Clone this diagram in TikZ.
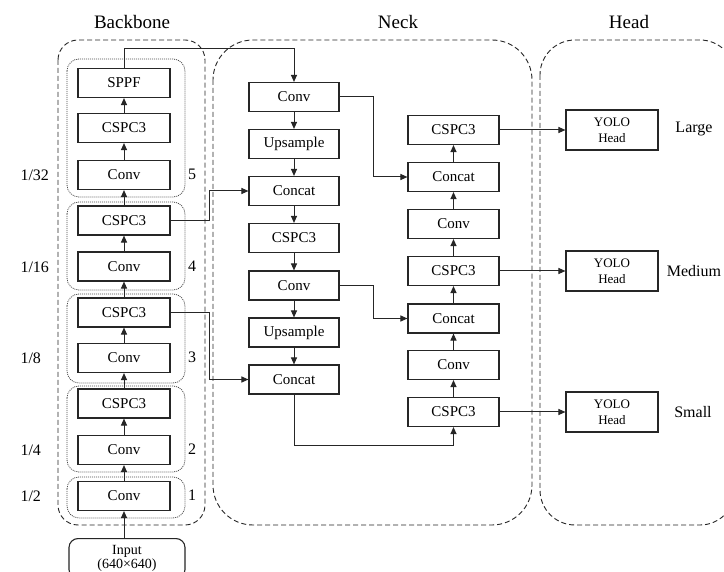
\documentclass[tikz,border=0pt]{standalone}
\usepackage{fontspec}
\setmainfont{Liberation Serif}
\usetikzlibrary{arrows.meta}
\begin{document}
\begin{tikzpicture}[x=1pt,y=-1pt,
  blk/.style={draw=black!85, line width=1.1pt, minimum height=29pt, inner sep=0pt, font=\fontsize{15}{17}\selectfont},
  bbox/.style={blk, minimum width=92pt},
  lbox/.style={blk, minimum width=90pt},
  rbox/.style={blk, minimum width=91pt},
  hbox/.style={blk, minimum width=92pt, minimum height=40pt, align=center, font=\fontsize{13}{16}\selectfont},
  grp/.style={draw=black!85, line width=0.9pt, dash pattern=on 5pt off 3pt},
  stg/.style={draw=black!70, line width=0.8pt, dash pattern=on 1pt off 1pt, rounded corners=12pt},
  arr/.style={draw=black!85, line width=1pt, -{Triangle[length=7pt,width=6pt]}},
  ttl/.style={font=\fontsize{19}{21}\selectfont},
  lab/.style={font=\fontsize{16}{18}\selectfont}
]
\path[use as bounding box, clip] (0,0) rectangle (724,572);
\fill[white] (0,0) rectangle (724,572);

% titles
\node[ttl] (tb) at (132,22) {Backbone};
\node[ttl] (tn) at (398,22) {Neck};
\node[ttl] (th) at (629,22) {Head};

% group boxes
\draw[grp, rounded corners=20pt] (58,40) rectangle (205,525);
\draw[grp, rounded corners=40pt] (213,40) rectangle (532,525);
\draw[grp, rounded corners=35pt] (540,40) rectangle (735,525);

% stage boxes
\draw[stg] (67,59) rectangle (185,197);
\draw[stg] (67,202) rectangle (185,290);
\draw[stg] (67,294) rectangle (185,383);
\draw[stg] (67,386) rectangle (185,472);
\draw[stg] (67,477) rectangle (185,518);

% backbone nodes
\node[bbox] (sppf) at (124,83) {SPPF};
\node[bbox] (b5c) at (124,128) {CSPC3};
\node[bbox] (b5v) at (124,175) {Conv};
\node[bbox] (b4c) at (124,220.5) {CSPC3};
\node[bbox] (b4v) at (124,266.5) {Conv};
\node[bbox] (b3c) at (124,312.5) {CSPC3};
\node[bbox] (b3v) at (124,358) {Conv};
\node[bbox] (b2c) at (124,403.5) {CSPC3};
\node[bbox] (b2v) at (124,450) {Conv};
\node[bbox] (b1v) at (124,496) {Conv};
\node[draw=black!85, line width=1.1pt, rounded corners=9pt, minimum width=116pt, minimum height=40pt, anchor=north, align=center, font=\fontsize{14}{14.5}\selectfont] (inp) at (127,538) {Input\\(640×640)};

% scale labels
\node[lab, anchor=west] (s32) at (17,175) {1/32};
\node[lab, anchor=west] (s16) at (17,267) {1/16};
\node[lab, anchor=west] (s8) at (17,358) {1/8};
\node[lab, anchor=west] (s4) at (17,450) {1/4};
\node[lab, anchor=west] (s2) at (17,496) {1/2};
% stage numbers
\node[lab] (n5) at (192,174) {5};
\node[lab] (n4) at (192,266) {4};
\node[lab] (n3) at (192,357) {3};
\node[lab] (n2) at (192,449) {2};
\node[lab] (n1) at (192,495) {1};

% backbone arrows
\draw[arr] (inp.north -| b1v) -- (b1v.south);
\draw[arr] (b1v) -- (b2v.south);
\draw[arr] (b2v) -- (b2c.south);
\draw[arr] (b2c) -- (b3v.south);
\draw[arr] (b3v) -- (b3c.south);
\draw[arr] (b3c) -- (b4v.south);
\draw[arr] (b4v) -- (b4c.south);
\draw[arr] (b4c) -- (b5v.south);
\draw[arr] (b5v) -- (b5c.south);
\draw[arr] (b5c) -- (sppf.south);

% neck left column
\node[lbox] (nc1) at (294,97) {Conv};
\node[lbox] (nu1) at (294,144) {Upsample};
\node[lbox] (ncat1) at (294,191) {Concat};
\node[lbox] (ncs) at (294,238) {CSPC3};
\node[lbox] (nc2) at (294,285.5) {Conv};
\node[lbox] (nu2) at (294,332.5) {Upsample};
\node[lbox] (ncat2) at (294,379.5) {Concat};

% neck right column
\node[rbox] (rcs1) at (453.5,130) {CSPC3};
\node[rbox] (rcat1) at (453.5,177) {Concat};
\node[rbox] (rcv1) at (453.5,224) {Conv};
\node[rbox] (rcs2) at (453.5,271) {CSPC3};
\node[rbox] (rcat2) at (453.5,318.5) {Concat};
\node[rbox] (rcv2) at (453.5,365) {Conv};
\node[rbox] (rcs3) at (453.5,412) {CSPC3};

% heads
\node[hbox] (h1) at (612,130) {YOLO\\Head};
\node[hbox] (h2) at (612,271) {YOLO\\Head};
\node[hbox] (h3) at (612,412) {YOLO\\Head};
\node[lab] (lL) at (694,129) {Large};
\node[lab] (lM) at (694,271) {Medium};
\node[lab] (lS) at (693,412) {Small};

% neck left arrows
\draw[arr] (nc1) -- (nu1.north);
\draw[arr] (nu1) -- (ncat1.north);
\draw[arr] (ncat1) -- (ncs.north);
\draw[arr] (ncs) -- (nc2.north);
\draw[arr] (nc2) -- (nu2.north);
\draw[arr] (nu2) -- (ncat2.north);

% neck right arrows
\draw[arr] (rcs3) -- (rcv2.south);
\draw[arr] (rcv2) -- (rcat2.south);
\draw[arr] (rcat2) -- (rcs2.south);
\draw[arr] (rcs2) -- (rcv1.south);
\draw[arr] (rcv1) -- (rcat1.south);
\draw[arr] (rcat1) -- (rcs1.south);

% cross connectors
\draw[arr] (sppf.north) -- ++(0,-19) -| (nc1.north);
\draw[arr] (b4c.east) -- ++(39,0) |- (ncat1.west);
\draw[arr] (b3c.east) -- ++(39,0) |- (ncat2.west);
\draw[arr] (nc1.east) -- ++(34,0) |- (rcat1.west);
\draw[arr] (nc2.east) -- ++(34,0) |- (rcat2.west);
\draw[arr] (ncat2.south) -- ++(0,51) -| (rcs3.south);

% to heads
\draw[arr] (rcs1.east) -- (h1.west);
\draw[arr] (rcs2.east) -- (h2.west);
\draw[arr] (rcs3.east) -- (h3.west);
\end{tikzpicture}
\end{document}
